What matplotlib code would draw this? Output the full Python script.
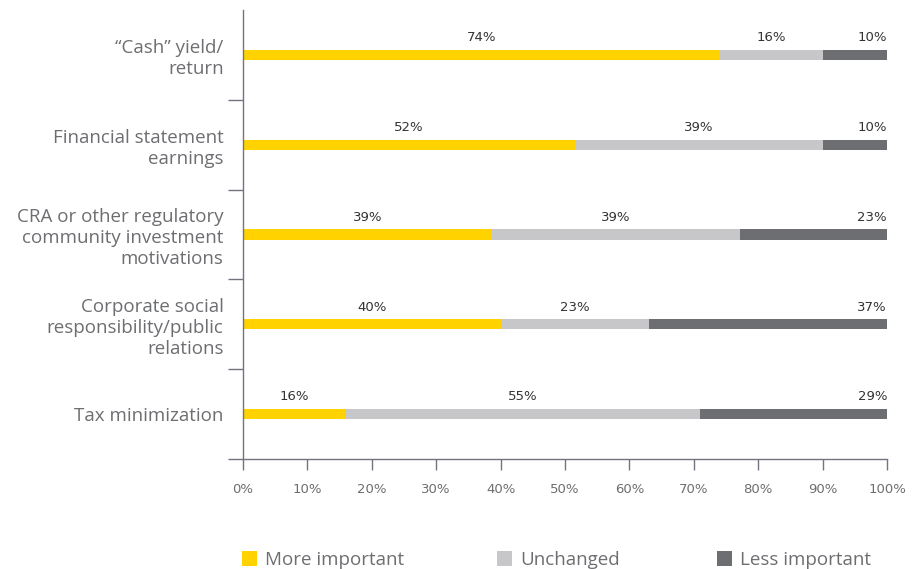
import matplotlib
matplotlib.use("Agg")
import matplotlib.pyplot as plt
from matplotlib.patches import Rectangle
import numpy as np

categories = [
    "\u201cCash\u201d yield/\nreturn",
    "Financial statement\nearnings",
    "CRA or other regulatory\ncommunity investment\nmotivations",
    "Corporate social\nresponsibility/public\nrelations",
    "Tax minimization",
]
series_names = ["More important", "Unchanged", "Less important"]
more_important = [74, 52, 39, 40, 16]
unchanged = [16, 39, 39, 23, 55]
less_important = [10, 10, 23, 37, 29]
x_ticks = [0, 10, 20, 30, 40, 50, 60, 70, 80, 90, 100]
x_tick_labels = [f"{t}%" for t in x_ticks]

colors = ["#ffd200", "#c7c7c9", "#6d6e71"]
axis_grey = "#747480"
text_grey = "#6d6e71"

W, H = 922, 569
fig = plt.figure(figsize=(W / 100, H / 100), dpi=100)
ax = fig.add_axes([243 / W, 1 - 459 / H, (887 - 243) / W, (459 - 10) / H])

values = np.array([more_important, unchanged, less_important], dtype=float)
totals = values.sum(axis=0)
shares = values / totals * 100  # rounded labels may not add to 100

y = np.arange(len(categories))
bar_h = 0.115
left = np.zeros(len(categories))
for i, (name, col) in enumerate(zip(series_names, colors)):
    ax.barh(y, shares[i], left=left, height=bar_h, color=col, label=name,
            linewidth=0)
    for j in range(len(categories)):
        label = f"{values[i, j]:.0f}%"
        if i == len(series_names) - 1:
            xpos, ha = left[j] + shares[i, j], "right"
        else:
            xpos, ha = left[j] + shares[i, j] / 2, "center"
        ax.annotate(label, (xpos, y[j] - bar_h / 2), xytext=(0, 4),
                    textcoords="offset points", ha=ha, va="bottom",
                    fontsize=9.5, color="#333333", family="DejaVu Sans")
    left += shares[i]

ax.set_xlim(0, 100)
ax.set_ylim(len(categories) - 0.5, -0.5)

for s in ["top", "right"]:
    ax.spines[s].set_visible(False)
for s in ["left", "bottom"]:
    ax.spines[s].set_color(axis_grey)
    ax.spines[s].set_linewidth(1.0)

ax.set_xticks(x_ticks)
ax.set_xticklabels(x_tick_labels, fontsize=9.5, color=text_grey, family="DejaVu Sans")
ax.tick_params(axis="x", direction="out", length=8, width=1, color=axis_grey, pad=9)

ax.set_yticks(y)
ax.set_yticklabels(categories, fontsize=13.5, color=text_grey, family="Open Sans",
                   linespacing=1.2)
ax.tick_params(axis="y", which="major", length=0, pad=14)
ax.set_yticks(np.arange(0.5, len(categories) + 0.5, 1), minor=True)
ax.tick_params(axis="y", which="minor", length=11, width=1, color=axis_grey,
               direction="out")
for lbl in ax.get_yticklabels():
    lbl.set_horizontalalignment("right")
    lbl.set_multialignment("right")

# legend: coloured squares with labels along the bottom
legend_x = [242, 497, 717]
sq = 15
for x0, c, name in zip(legend_x, colors, series_names):
    fig.add_artist(Rectangle((x0 / W, 1 - 566 / H), sq / W, sq / H,
                             transform=fig.transFigure, facecolor=c,
                             edgecolor="none"))
    fig.text((x0 + sq + 8) / W, 1 - 565 / H, name, ha="left", va="baseline",
             fontsize=13.5, color=text_grey, family="Open Sans")

fig.savefig("out.png", dpi=100)
